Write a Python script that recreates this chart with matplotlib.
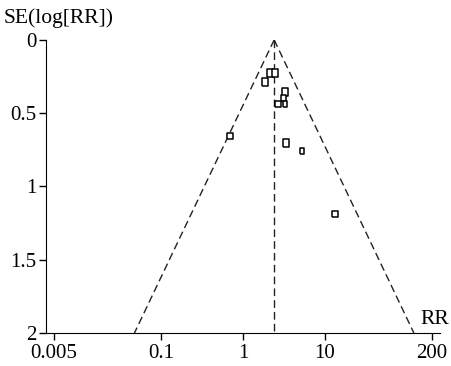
import numpy as np
import matplotlib.pyplot as plt

plt.rcParams['font.family'] = ['Liberation Serif', 'DejaVu Serif']

# study estimates
rr = [2.15, 2.46, 1.87, 3.22, 3.10, 2.65, 3.28, 0.69, 3.37, 5.24, 13.1]
se = [0.223, 0.223, 0.289, 0.353, 0.398, 0.437, 0.437, 0.655, 0.705, 0.756, 1.188]
box_h = [7.3, 7.3, 8.3, 7.3, 6.0, 6.7, 6.7, 6.7, 8.0, 6.7, 6.3]
box_w = [5.5, 5.5, 6.3, 6.0, 5.0, 6.0, 5.0, 6.0, 6.5, 4.0, 6.3]
pooled_rr = 2.4
x_ticks = [0.005, 0.1, 1, 10, 200]
x_labels = ['0.005', '0.1', '1', '10', '200']
y_ticks = [0, 0.5, 1, 1.5, 2]
y_labels = ['0', '0.5', '1', '1.5', '2']

fig = plt.figure(figsize=(4.52, 3.66), dpi=100)
ax = fig.add_axes([0.102, 0.090, 0.871, 0.801])

# funnel limits
se_line = np.array([0, 2])
lo = np.exp(np.log(pooled_rr) - 1.96 * se_line)
hi = np.exp(np.log(pooled_rr) + 1.96 * se_line)
for xs in (lo, hi, [pooled_rr, pooled_rr]):
    ax.plot(xs, se_line, color='#222222', lw=1.0, dashes=(5.5, 3))

px = 72 / fig.dpi
for r, s, h, w in zip(rr, se, box_h, box_w):
    a = w / h
    verts = [(-a, -1), (a, -1), (a, 1), (-a, 1), (-a, -1)]
    ax.plot(r, s, marker=verts, ms=h * px, mfc='white', mec='black',
            mew=1.1, ls='none')

ax.set_xscale('log')
ax.set_xlim(0.004, 250)
ax.set_ylim(2, 0)
ax.set_xticks(x_ticks)
ax.set_xticklabels(x_labels)
ax.minorticks_off()
ax.set_yticks(y_ticks)
ax.set_yticklabels(y_labels)
ax.tick_params(labelsize=15, length=5, width=1, pad=2)
ax.tick_params(axis='x', pad=3)
ax.spines['top'].set_visible(False)
ax.spines['right'].set_visible(False)

fig.text(0.008, 0.950, 'SE(log[RR])', fontsize=15.5, va='center', ha='left')
fig.text(0.994, 0.128, 'RR', fontsize=15.5, va='center', ha='right')

fig.savefig('out.png', dpi=100)
